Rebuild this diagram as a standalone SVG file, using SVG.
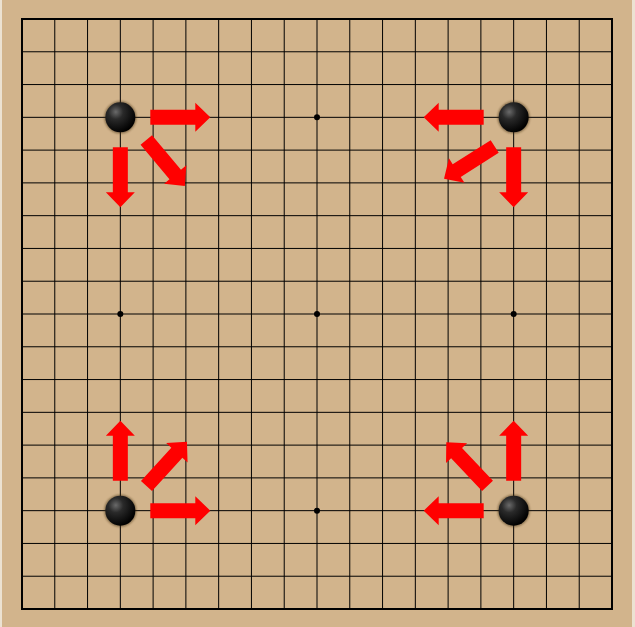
<svg xmlns="http://www.w3.org/2000/svg" xmlns:xlink="http://www.w3.org/1999/xlink" width="635" height="627" viewBox="0 0 635 627">
  <defs>
    <radialGradient id="stoneGrad" cx="0.35" cy="0.32" r="0.7">
      <stop offset="0" stop-color="#6a6a6a"/>
      <stop offset="0.35" stop-color="#2a2a2a"/>
      <stop offset="1" stop-color="#000"/>
    </radialGradient>
    <filter id="shadow" x="-50%" y="-50%" width="200%" height="200%">
      <feGaussianBlur stdDeviation="1.2"/>
    </filter>
    <path id="arrow" d="M0,-7.5 L45,-7.5 L45,-14.5 L60,0 L45,14.5 L45,7.5 L0,7.5 Z"/>
    <g id="stone">
      <circle r="16" fill="#3a2a10" opacity="0.55" filter="url(#shadow)"/>
      <circle r="15" fill="url(#stoneGrad)"/>
    </g>
  </defs>
  <style>
    .grid { stroke: #000; stroke-width: 1; fill: none; }
    .border { stroke: #000; stroke-width: 2; fill: none; }
    .star { fill: #000; }
    .arr { fill: #ff0000; }
  </style>
  <rect x="0" y="0" width="635" height="627" fill="#ece2d2"/>
  <rect x="2" y="0" width="630" height="627" fill="#d2b48c"/>
  <g id="board">
    <path class="grid" d="M54.778,19V609 M87.556,19V609 M120.333,19V609 M153.111,19V609 M185.889,19V609 M218.667,19V609 M251.444,19V609 M284.222,19V609 M317,19V609 M349.778,19V609 M382.556,19V609 M415.333,19V609 M448.111,19V609 M480.889,19V609 M513.667,19V609 M546.444,19V609 M579.222,19V609 M22,51.778H612 M22,84.556H612 M22,117.333H612 M22,150.111H612 M22,182.889H612 M22,215.667H612 M22,248.444H612 M22,281.222H612 M22,314H612 M22,346.778H612 M22,379.556H612 M22,412.333H612 M22,445.111H612 M22,477.889H612 M22,510.667H612 M22,543.444H612 M22,576.222H612"/>
    <rect class="border" x="22" y="19" width="590" height="590"/>
    <circle class="star" cx="317" cy="117.333" r="3"/>
    <circle class="star" cx="120.333" cy="314" r="3"/>
    <circle class="star" cx="317" cy="314" r="3"/>
    <circle class="star" cx="513.667" cy="314" r="3"/>
    <circle class="star" cx="317" cy="510.667" r="3"/>
  </g>
  <g id="stone-tl"><use xlink:href="#stone" href="#stone" x="120.333" y="117.333"/></g>
  <g id="stone-tr"><use xlink:href="#stone" href="#stone" x="513.667" y="117.333"/></g>
  <g id="stone-bl"><use xlink:href="#stone" href="#stone" x="120.333" y="510.667"/></g>
  <g id="stone-br"><use xlink:href="#stone" href="#stone" x="513.667" y="510.667"/></g>
  <g id="connectors" class="arr">
    <use href="#arrow" xlink:href="#arrow" transform="translate(150.3,117.333)"/>
    <use href="#arrow" xlink:href="#arrow" transform="translate(120.333,147.3) rotate(90)"/>
    <use href="#arrow" xlink:href="#arrow" transform="translate(146.3,140) rotate(50)"/>
    <use href="#arrow" xlink:href="#arrow" transform="translate(483.7,117.333) rotate(180)"/>
    <use href="#arrow" xlink:href="#arrow" transform="translate(513.667,147.3) rotate(90)"/>
    <use href="#arrow" xlink:href="#arrow" transform="translate(494.7,146.5) rotate(147.6)"/>
    <use href="#arrow" xlink:href="#arrow" transform="translate(120.333,480.7) rotate(-90)"/>
    <use href="#arrow" xlink:href="#arrow" transform="translate(150.3,510.667)"/>
    <use href="#arrow" xlink:href="#arrow" transform="translate(146.5,486) rotate(-47.6)"/>
    <use href="#arrow" xlink:href="#arrow" transform="translate(513.667,480.7) rotate(-90)"/>
    <use href="#arrow" xlink:href="#arrow" transform="translate(483.7,510.667) rotate(180)"/>
    <use href="#arrow" xlink:href="#arrow" transform="translate(487.5,485.8) rotate(-133.4)"/>
  </g>
</svg>
